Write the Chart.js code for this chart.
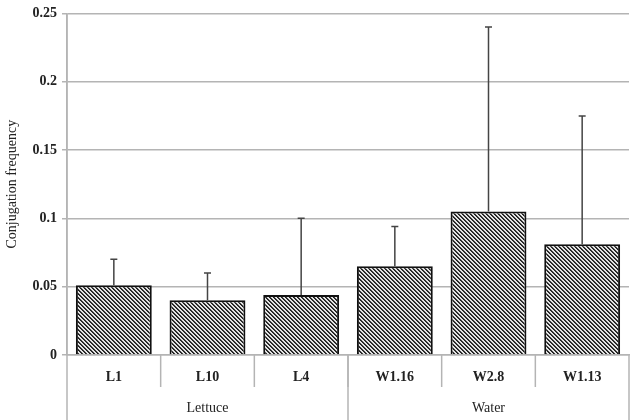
<!DOCTYPE html>
<html>
<head>
<meta charset="utf-8">
<script src="https://cdn.jsdelivr.net/npm/chart.js@4/dist/chart.umd.min.js"></script>
<style>
  html, body { margin: 0; padding: 0; background: #fff; }
  #wrap { width: 634px; height: 420px; position: relative; }
</style>
</head>
<body>
<div id="wrap"><canvas id="myChart" width="634" height="420"></canvas></div>
<script>
// data
const strains = ["L1", "L10", "L4", "W1.16", "W2.8", "W1.13"];
const groupNames = ["Lettuce", "Water"];
const groupSizes = [3, 3];
const frequency = [0.051, 0.040, 0.044, 0.065, 0.105, 0.081];
const errorTop = [0.070, 0.060, 0.100, 0.094, 0.240, 0.175];
const yTicks = [0, 0.05, 0.1, 0.15, 0.2, 0.25];

const serif = "'Liberation Serif', 'DejaVu Serif', serif";
const gridGrey = "#b4b4b4";

// hatch fill for the bars: pixel diagonal stripes
function makeHatch(ctx) {
    const s = 4;
    const tile = document.createElement("canvas");
    tile.width = s;
    tile.height = s;
    const t = tile.getContext("2d");
    t.fillStyle = "#e4e4e4";
    t.fillRect(0, 0, s, s);
    for (let py = 0; py < s; py++) {
        for (let px = 0; px < s; px++) {
            const d = ((px - py) % s + s) % s;
            if (d === 0) t.fillStyle = "#1e1e1e";
            else if (d === 1) t.fillStyle = "#3c3c3c";
            else continue;
            t.fillRect(px, py, 1, 1);
        }
    }
    return ctx.createPattern(tile, "repeat");
}

// error bars (upper only)
const errorBarPlugin = {
    id: "errorBars",
    afterDatasetsDraw(chart) {
        const ctx = chart.ctx;
        const meta = chart.getDatasetMeta(0);
        const y = chart.scales.y;
        ctx.save();
        ctx.strokeStyle = "#444";
        ctx.lineWidth = 1.5;
        meta.data.forEach((bar, i) => {
            const top = y.getPixelForValue(errorTop[i]);
            ctx.beginPath();
            ctx.moveTo(bar.x, bar.y);
            ctx.lineTo(bar.x, top);
            ctx.moveTo(bar.x - 3.5, top);
            ctx.lineTo(bar.x + 3.5, top);
            ctx.stroke();
        });
        ctx.restore();
    }
};

// category separators, group labels, y title
const axisExtrasPlugin = {
    id: "axisExtras",
    afterDraw(chart) {
        const ctx = chart.ctx;
        const x = chart.scales.x;
        const area = chart.chartArea;
        const half = (x.getPixelForValue(1) - x.getPixelForValue(0)) / 2;
        ctx.save();
        ctx.strokeStyle = gridGrey;
        ctx.lineWidth = 1.5;

        // short ticks between categories
        for (let i = 1; i < strains.length; i++) {
            const px = x.getPixelForValue(i) - half;
            ctx.beginPath();
            ctx.moveTo(px, area.bottom);
            ctx.lineTo(px, area.bottom + 32);
            ctx.stroke();
        }

        // group boundaries and labels
        let start = 0;
        ctx.fillStyle = "#222";
        ctx.font = "14px " + serif;
        ctx.textAlign = "center";
        ctx.textBaseline = "middle";
        groupSizes.forEach((n, g) => {
            const left = x.getPixelForValue(start) - half;
            const right = x.getPixelForValue(start + n - 1) + half;
            ctx.beginPath();
            ctx.moveTo(right, area.bottom);
            ctx.lineTo(right, chart.height);
            ctx.stroke();
            ctx.fillText(groupNames[g], (left + right) / 2, 408);
            start += n;
        });

        // left axis line runs to the bottom
        ctx.beginPath();
        ctx.moveTo(area.left, area.top);
        ctx.lineTo(area.left, chart.height);
        ctx.stroke();

        // y title
        ctx.translate(12, (area.top + area.bottom) / 2);
        ctx.rotate(-Math.PI / 2);
        ctx.font = "14px " + serif;
        ctx.fillText("Conjugation frequency", 0, 0);
        ctx.restore();
    }
};

const canvas = document.getElementById("myChart");
const hatch = makeHatch(canvas.getContext("2d"));

new Chart(canvas, {
    type: "bar",
    data: {
        labels: strains,
        datasets: [{
            data: frequency,
            backgroundColor: hatch,
            borderColor: "#111",
            borderWidth: 2,
            categoryPercentage: 1,
            barPercentage: 0.81
        }]
    },
    options: {
        responsive: false,
        animation: false,
        layout: { padding: { top: 10, right: 5, left: 0, bottom: 0 } },
        plugins: {
            legend: { display: false },
            tooltip: { enabled: false }
        },
        scales: {
            x: {
                grid: { display: false, drawTicks: false },
                border: { color: gridGrey, width: 1.5 },
                ticks: {
                    color: "#222",
                    padding: 14,
                    font: { family: serif, size: 14, weight: "bold" }
                },
                afterFit(scale) { scale.height = 65; }
            },
            y: {
                min: 0,
                max: 0.25,
                afterBuildTicks(scale) {
                    scale.ticks = yTicks.map(v => ({ value: v }));
                },
                grid: {
                    color: gridGrey,
                    lineWidth: 1.5,
                    tickLength: 5
                },
                border: { color: gridGrey, width: 1.5 },
                ticks: {
                    color: "#222",
                    padding: 5,
                    font: { family: serif, size: 14, weight: "bold" },
                    callback: v => String(v)
                },
                afterFit(scale) { scale.width = 67; }
            }
        }
    },
    plugins: [errorBarPlugin, axisExtrasPlugin]
});
</script>
</body>
</html>
